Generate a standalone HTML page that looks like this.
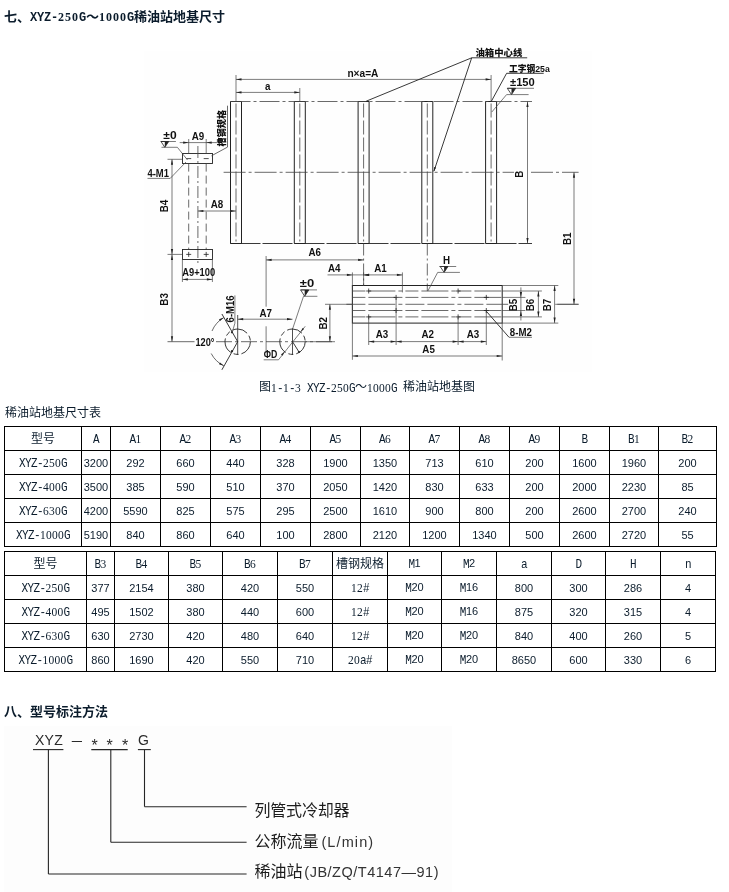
<!DOCTYPE html>
<html lang="zh-CN"><head><meta charset="utf-8"><title>XYZ-250G～1000G稀油站地基尺寸</title>
<style>
html,body{margin:0;padding:0;background:#fff;}
body{width:729px;height:892px;position:relative;overflow:hidden;color:#0b1c2c;will-change:transform;
 font-family:"Liberation Serif","Noto Sans CJK SC",serif;font-size:12px;line-height:14px;}
.abs{position:absolute;white-space:nowrap;}
.h{font-family:"Liberation Serif","Noto Sans CJK SC",serif;font-size:13px;font-weight:bold;line-height:15px;}
.m{font-family:"Liberation Mono","Noto Sans CJK SC",monospace;font-size:11px;letter-spacing:-0.6px;display:inline-block;transform:translateY(1px) scaleY(1.16);transform-origin:50% 78%;white-space:pre;}
.h .m{font-size:12px;letter-spacing:-0.2px;transform:translateY(0px) scaleY(1.04);}
.m .d{font-family:"Liberation Serif",serif;font-size:11.5px;letter-spacing:0.25px;}
.h .m .d{font-size:12px;letter-spacing:1px;}
.n{font-family:"Liberation Sans","Noto Sans CJK SC",sans-serif;font-size:11px;}
table.t{position:absolute;border-collapse:collapse;table-layout:fixed;}
table.t td{border:1px solid #000;padding:0;text-align:center;vertical-align:middle;height:23px;
 font-size:12px;line-height:14px;overflow:hidden;white-space:nowrap;}
svg{position:absolute;left:0;top:0;}
svg text{font-family:"Liberation Sans","Noto Sans CJK SC",sans-serif;}
</style></head>
<body>
<div class="abs h" style="left:4px;top:9px">七、<span class="m">XYZ-<span class="d">250</span>G</span>～<span class="m"><span class="d">1000</span>G</span>稀油站地基尺寸</div>
<div class="abs" style="left:259px;top:380px">图<span class="m"><span class="d">1</span>-<span class="d">1</span>-<span class="d">3</span> XYZ-<span class="d">250</span>G</span>～<span class="m"><span class="d">1000</span>G </span>稀油站地基图</div>
<div class="abs" style="left:5px;top:406px">稀油站地基尺寸表</div>
<table class="t" style="left:4px;top:426px;width:713px">
<colgroup><col style="width:77px"><col style="width:29px"><col style="width:50px"><col style="width:50px"><col style="width:50px"><col style="width:50px"><col style="width:50px"><col style="width:49px"><col style="width:50px"><col style="width:50px"><col style="width:50px"><col style="width:50px"><col style="width:49px"><col style="width:58px"></colgroup>
<tr><td>型号</td><td><span class="m">A</span></td><td><span class="m">A<span class="d">1</span></span></td><td><span class="m">A<span class="d">2</span></span></td><td><span class="m">A<span class="d">3</span></span></td><td><span class="m">A<span class="d">4</span></span></td><td><span class="m">A<span class="d">5</span></span></td><td><span class="m">A<span class="d">6</span></span></td><td><span class="m">A<span class="d">7</span></span></td><td><span class="m">A<span class="d">8</span></span></td><td><span class="m">A<span class="d">9</span></span></td><td><span class="m">B</span></td><td><span class="m">B<span class="d">1</span></span></td><td><span class="m">B<span class="d">2</span></span></td></tr>
<tr><td><span class="m">XYZ-<span class="d">250</span>G</span></td><td><span class="n">3200</span></td><td><span class="n">292</span></td><td><span class="n">660</span></td><td><span class="n">440</span></td><td><span class="n">328</span></td><td><span class="n">1900</span></td><td><span class="n">1350</span></td><td><span class="n">713</span></td><td><span class="n">610</span></td><td><span class="n">200</span></td><td><span class="n">1600</span></td><td><span class="n">1960</span></td><td><span class="n">200</span></td></tr>
<tr><td><span class="m">XYZ-<span class="d">400</span>G</span></td><td><span class="n">3500</span></td><td><span class="n">385</span></td><td><span class="n">590</span></td><td><span class="n">510</span></td><td><span class="n">370</span></td><td><span class="n">2050</span></td><td><span class="n">1420</span></td><td><span class="n">830</span></td><td><span class="n">633</span></td><td><span class="n">200</span></td><td><span class="n">2000</span></td><td><span class="n">2230</span></td><td><span class="n">85</span></td></tr>
<tr><td><span class="m">XYZ-<span class="d">630</span>G</span></td><td><span class="n">4200</span></td><td><span class="n">5590</span></td><td><span class="n">825</span></td><td><span class="n">575</span></td><td><span class="n">295</span></td><td><span class="n">2500</span></td><td><span class="n">1610</span></td><td><span class="n">900</span></td><td><span class="n">800</span></td><td><span class="n">200</span></td><td><span class="n">2600</span></td><td><span class="n">2700</span></td><td><span class="n">240</span></td></tr>
<tr><td><span class="m">XYZ-<span class="d">1000</span>G</span></td><td><span class="n">5190</span></td><td><span class="n">840</span></td><td><span class="n">860</span></td><td><span class="n">640</span></td><td><span class="n">100</span></td><td><span class="n">2800</span></td><td><span class="n">2120</span></td><td><span class="n">1200</span></td><td><span class="n">1340</span></td><td><span class="n">500</span></td><td><span class="n">2600</span></td><td><span class="n">2720</span></td><td><span class="n">55</span></td></tr>
</table>
<table class="t" style="left:4px;top:551px;width:712px">
<colgroup><col style="width:82px"><col style="width:28px"><col style="width:54px"><col style="width:54px"><col style="width:55px"><col style="width:55px"><col style="width:55px"><col style="width:54px"><col style="width:55px"><col style="width:55px"><col style="width:54px"><col style="width:55px"><col style="width:55px"></colgroup>
<tr><td>型号</td><td><span class="m">B<span class="d">3</span></span></td><td><span class="m">B<span class="d">4</span></span></td><td><span class="m">B<span class="d">5</span></span></td><td><span class="m">B<span class="d">6</span></span></td><td><span class="m">B<span class="d">7</span></span></td><td>槽钢规格</td><td><span class="m">M</span><span class="n">1</span></td><td><span class="m">M</span><span class="n">2</span></td><td><span class="m">a</span></td><td><span class="m">D</span></td><td><span class="m">H</span></td><td><span class="m">n</span></td></tr>
<tr><td><span class="m">XYZ-<span class="d">250</span>G</span></td><td><span class="n">377</span></td><td><span class="n">2154</span></td><td><span class="n">380</span></td><td><span class="n">420</span></td><td><span class="n">550</span></td><td><span class="m"><span class="d">12</span>#</span></td><td><span class="m">M</span><span class="n">20</span></td><td><span class="m">M</span><span class="n">16</span></td><td><span class="n">800</span></td><td><span class="n">300</span></td><td><span class="n">286</span></td><td><span class="n">4</span></td></tr>
<tr><td><span class="m">XYZ-<span class="d">400</span>G</span></td><td><span class="n">495</span></td><td><span class="n">1502</span></td><td><span class="n">380</span></td><td><span class="n">440</span></td><td><span class="n">600</span></td><td><span class="m"><span class="d">12</span>#</span></td><td><span class="m">M</span><span class="n">20</span></td><td><span class="m">M</span><span class="n">16</span></td><td><span class="n">875</span></td><td><span class="n">320</span></td><td><span class="n">315</span></td><td><span class="n">4</span></td></tr>
<tr><td><span class="m">XYZ-<span class="d">630</span>G</span></td><td><span class="n">630</span></td><td><span class="n">2730</span></td><td><span class="n">420</span></td><td><span class="n">480</span></td><td><span class="n">640</span></td><td><span class="m"><span class="d">12</span>#</span></td><td><span class="m">M</span><span class="n">20</span></td><td><span class="m">M</span><span class="n">20</span></td><td><span class="n">840</span></td><td><span class="n">400</span></td><td><span class="n">260</span></td><td><span class="n">5</span></td></tr>
<tr><td><span class="m">XYZ-<span class="d">1000</span>G</span></td><td><span class="n">860</span></td><td><span class="n">1690</span></td><td><span class="n">420</span></td><td><span class="n">550</span></td><td><span class="n">710</span></td><td><span class="m"><span class="d">20</span>a#</span></td><td><span class="m">M</span><span class="n">20</span></td><td><span class="m">M</span><span class="n">20</span></td><td><span class="n">8650</span></td><td><span class="n">600</span></td><td><span class="n">330</span></td><td><span class="n">6</span></td></tr>
</table>
<div class="abs h" style="left:4px;top:704px">八、型号标注方法</div>
<svg width="729" height="400" viewBox="0 0 729 400">
<rect x="144" y="51" width="448" height="321" fill="#fefefe"/>
<line x1="230.5" y1="101.5" x2="230.5" y2="243.5" stroke="#222222" stroke-width="1.00"/>
<line x1="241.5" y1="101.5" x2="241.5" y2="243.5" stroke="#222222" stroke-width="1.00"/>
<line x1="230.5" y1="101.5" x2="241.5" y2="101.5" stroke="#222222" stroke-width="1.00"/>
<line x1="230.5" y1="243.5" x2="241.5" y2="243.5" stroke="#222222" stroke-width="1.00"/>
<line x1="236.0" y1="103.5" x2="236.0" y2="241.5" stroke="#444444" stroke-width="0.80" stroke-dasharray="14 3"/>
<line x1="294.3" y1="101.5" x2="294.3" y2="243.5" stroke="#222222" stroke-width="1.00"/>
<line x1="305.3" y1="101.5" x2="305.3" y2="243.5" stroke="#222222" stroke-width="1.00"/>
<line x1="294.3" y1="101.5" x2="305.3" y2="101.5" stroke="#222222" stroke-width="1.00"/>
<line x1="294.3" y1="243.5" x2="305.3" y2="243.5" stroke="#222222" stroke-width="1.00"/>
<line x1="299.8" y1="103.5" x2="299.8" y2="241.5" stroke="#444444" stroke-width="0.80" stroke-dasharray="14 3"/>
<line x1="358.1" y1="101.5" x2="358.1" y2="243.5" stroke="#222222" stroke-width="1.00"/>
<line x1="369.1" y1="101.5" x2="369.1" y2="243.5" stroke="#222222" stroke-width="1.00"/>
<line x1="358.1" y1="101.5" x2="369.1" y2="101.5" stroke="#222222" stroke-width="1.00"/>
<line x1="358.1" y1="243.5" x2="369.1" y2="243.5" stroke="#222222" stroke-width="1.00"/>
<line x1="363.6" y1="103.5" x2="363.6" y2="241.5" stroke="#444444" stroke-width="0.80" stroke-dasharray="14 3"/>
<line x1="421.8" y1="101.5" x2="421.8" y2="243.5" stroke="#222222" stroke-width="1.00"/>
<line x1="432.8" y1="101.5" x2="432.8" y2="243.5" stroke="#222222" stroke-width="1.00"/>
<line x1="421.8" y1="101.5" x2="432.8" y2="101.5" stroke="#222222" stroke-width="1.00"/>
<line x1="421.8" y1="243.5" x2="432.8" y2="243.5" stroke="#222222" stroke-width="1.00"/>
<line x1="427.3" y1="103.5" x2="427.3" y2="241.5" stroke="#444444" stroke-width="0.80" stroke-dasharray="14 3"/>
<line x1="485.6" y1="101.5" x2="485.6" y2="243.5" stroke="#222222" stroke-width="1.00"/>
<line x1="496.6" y1="101.5" x2="496.6" y2="243.5" stroke="#222222" stroke-width="1.00"/>
<line x1="485.6" y1="101.5" x2="496.6" y2="101.5" stroke="#222222" stroke-width="1.00"/>
<line x1="485.6" y1="243.5" x2="496.6" y2="243.5" stroke="#222222" stroke-width="1.00"/>
<line x1="491.1" y1="103.5" x2="491.1" y2="241.5" stroke="#444444" stroke-width="0.80" stroke-dasharray="14 3"/>
<line x1="230.5" y1="101.5" x2="532.0" y2="101.5" stroke="#444444" stroke-width="0.80" stroke-dasharray="20 3 3 3"/>
<line x1="230.5" y1="243.5" x2="532.0" y2="243.5" stroke="#222222" stroke-width="0.90" stroke-dasharray="30 2"/>
<line x1="223.6" y1="172.3" x2="514.0" y2="172.3" stroke="#444444" stroke-width="0.80" stroke-dasharray="22 3 3 3"/>
<line x1="531.0" y1="172.3" x2="578.6" y2="172.3" stroke="#444444" stroke-width="0.80" stroke-dasharray="22 3 3 3"/>
<line x1="363.6" y1="243.5" x2="363.6" y2="286.0" stroke="#444444" stroke-width="0.80" stroke-dasharray="12 3 2 3"/>
<line x1="427.3" y1="243.5" x2="427.3" y2="291.0" stroke="#444444" stroke-width="0.80" stroke-dasharray="12 3 2 3"/>
<line x1="236.0" y1="75.0" x2="236.0" y2="101.5" stroke="#444444" stroke-width="0.70"/>
<line x1="491.1" y1="75.0" x2="491.1" y2="101.5" stroke="#444444" stroke-width="0.70"/>
<line x1="236.0" y1="79.4" x2="491.1" y2="79.4" stroke="#444444" stroke-width="0.70"/>
<polygon points="236.0,79.4 241.5,78.3 241.5,80.5" fill="#222222"/>
<polygon points="491.1,79.4 485.6,80.5 485.6,78.3" fill="#222222"/>
<text font-size="10.2" text-anchor="middle" fill="#111" font-weight="bold" transform="translate(362.9 76.6)" textLength="31.0" lengthAdjust="spacingAndGlyphs">n×a=A</text>
<line x1="236.0" y1="92.4" x2="299.8" y2="92.4" stroke="#444444" stroke-width="0.70"/>
<polygon points="236.0,92.4 241.5,91.3 241.5,93.5" fill="#222222"/>
<polygon points="299.8,92.4 294.3,93.5 294.3,91.3" fill="#222222"/>
<line x1="299.8" y1="88.0" x2="299.8" y2="101.5" stroke="#444444" stroke-width="0.70"/>
<text font-size="10.2" text-anchor="middle" fill="#111" font-weight="bold" transform="translate(267.8 89.8) scale(0.96 1)">a</text>
<line x1="471.7" y1="57.8" x2="527.2" y2="57.8" stroke="#222222" stroke-width="0.90"/>
<line x1="471.7" y1="57.8" x2="366.2" y2="101.2" stroke="#222222" stroke-width="0.90"/>
<line x1="471.7" y1="57.8" x2="434.0" y2="171.0" stroke="#222222" stroke-width="0.90"/>
<polygon points="433.6,172.0 434.2,166.9 436.1,167.6" fill="#222222"/>
<text font-size="9.4" text-anchor="start" fill="#111" font-weight="900" transform="translate(475.4 55.6)">油箱中心线</text>
<text font-size="9.4" text-anchor="start" fill="#111" font-weight="900" transform="translate(509.1 72.3)" textLength="40.7" lengthAdjust="spacingAndGlyphs">工字钢25a</text>
<line x1="506.6" y1="73.3" x2="543.7" y2="73.3" stroke="#222222" stroke-width="0.90"/>
<line x1="506.6" y1="73.3" x2="491.4" y2="101.2" stroke="#222222" stroke-width="0.90"/>
<text font-size="10.2" text-anchor="start" fill="#111" font-weight="bold" transform="translate(510.0 86.2)" textLength="24.8" lengthAdjust="spacingAndGlyphs">±150</text>
<line x1="507.3" y1="88.3" x2="534.0" y2="88.3" stroke="#444444" stroke-width="0.70"/>
<polygon points="507.3,88.3 515.6,88.3 511.5,94.6" fill="none" stroke="#222222" stroke-width="0.8"/>
<polygon points="511.5,88.3 515.6,88.3 511.5,94.6" fill="#222222"/>
<line x1="506.6" y1="94.6" x2="528.6" y2="94.6" stroke="#444444" stroke-width="0.70"/>
<line x1="506.6" y1="94.6" x2="491.8" y2="112.0" stroke="#444444" stroke-width="0.70"/>
<line x1="527.5" y1="101.5" x2="527.5" y2="243.5" stroke="#444444" stroke-width="0.70"/>
<polygon points="527.5,101.5 528.6,107.0 526.4,107.0" fill="#222222"/>
<polygon points="527.5,243.5 526.4,238.0 528.6,238.0" fill="#222222"/>
<text font-size="10.2" text-anchor="middle" fill="#111" font-weight="bold" transform="translate(523.4 174.1) rotate(-90) scale(0.96 1)">B</text>
<line x1="574.0" y1="172.3" x2="574.0" y2="304.3" stroke="#444444" stroke-width="0.70"/>
<polygon points="574.0,172.3 575.1,177.8 572.9,177.8" fill="#222222"/>
<polygon points="574.0,304.3 572.9,298.8 575.1,298.8" fill="#222222"/>
<text font-size="10.2" text-anchor="middle" fill="#111" font-weight="bold" transform="translate(571.0 238.7) rotate(-90) scale(0.96 1)">B1</text>
<line x1="557.3" y1="304.3" x2="578.6" y2="304.3" stroke="#444444" stroke-width="0.70"/>
<rect x="182.5" y="153.5" width="30" height="10" fill="none" stroke="#222222" stroke-width="0.9"/>
<line x1="186.2" y1="158.6" x2="191.2" y2="158.6" stroke="#222222" stroke-width="0.80"/>
<line x1="203.7" y1="158.6" x2="208.7" y2="158.6" stroke="#222222" stroke-width="0.80"/>
<line x1="188.7" y1="163.6" x2="188.7" y2="249.4" stroke="#444444" stroke-width="0.80" stroke-dasharray="8 4"/>
<line x1="206.2" y1="163.6" x2="206.2" y2="249.4" stroke="#444444" stroke-width="0.80" stroke-dasharray="8 4"/>
<line x1="197.9" y1="146.0" x2="197.9" y2="264.0" stroke="#444444" stroke-width="0.80" stroke-dasharray="12 3 2 3"/>
<line x1="188.7" y1="139.0" x2="188.7" y2="153.6" stroke="#444444" stroke-width="0.70"/>
<line x1="206.2" y1="139.0" x2="206.2" y2="153.6" stroke="#444444" stroke-width="0.70"/>
<line x1="179.7" y1="142.6" x2="215.2" y2="142.6" stroke="#444444" stroke-width="0.70"/>
<polygon points="188.7,142.6 183.2,143.7 183.2,141.5" fill="#222222"/>
<polygon points="206.2,142.6 211.7,141.5 211.7,143.7" fill="#222222"/>
<line x1="215.0" y1="142.6" x2="219.0" y2="142.6" stroke="#444444" stroke-width="0.70"/>
<text font-size="10.2" text-anchor="middle" fill="#111" font-weight="bold" transform="translate(197.9 139.8) scale(0.96 1)">A9</text>
<text font-size="10.2" text-anchor="middle" fill="#111" font-weight="bold" transform="translate(170.0 139.4)" textLength="13.3" lengthAdjust="spacingAndGlyphs">±0</text>
<line x1="160.6" y1="141.5" x2="175.9" y2="141.5" stroke="#444444" stroke-width="0.70"/>
<polygon points="161.0,141.5 168.7,141.5 164.8,147.3" fill="none" stroke="#222222" stroke-width="0.8"/>
<polygon points="164.8,141.5 168.7,141.5 164.8,147.3" fill="#222222"/>
<line x1="161.5" y1="147.3" x2="177.4" y2="147.3" stroke="#444444" stroke-width="0.70"/>
<line x1="177.4" y1="147.3" x2="187.5" y2="160.0" stroke="#444444" stroke-width="0.70"/>
<text font-size="10.2" text-anchor="middle" fill="#111" font-weight="bold" transform="translate(158.2 177.4)" textLength="21.5" lengthAdjust="spacingAndGlyphs">4-M1</text>
<line x1="147.5" y1="178.4" x2="170.2" y2="178.4" stroke="#444444" stroke-width="0.70"/>
<line x1="170.2" y1="178.4" x2="186.0" y2="162.0" stroke="#444444" stroke-width="0.70"/>
<text font-size="9.1" text-anchor="start" fill="#111" font-weight="900" transform="translate(225.4 146.4) rotate(-90)">槽钢规格</text>
<line x1="227.5" y1="105.7" x2="227.5" y2="147.1" stroke="#444444" stroke-width="0.80"/>
<line x1="227.5" y1="147.1" x2="211.5" y2="155.8" stroke="#444444" stroke-width="0.80"/>
<line x1="167.5" y1="159.3" x2="182.4" y2="159.3" stroke="#444444" stroke-width="0.70"/>
<line x1="172.0" y1="159.3" x2="172.0" y2="254.4" stroke="#444444" stroke-width="0.70"/>
<polygon points="172.0,159.3 173.1,164.8 170.9,164.8" fill="#222222"/>
<polygon points="172.0,254.4 170.9,248.9 173.1,248.9" fill="#222222"/>
<text font-size="10.2" text-anchor="middle" fill="#111" font-weight="bold" transform="translate(168.0 206.0) rotate(-90) scale(0.96 1)">B4</text>
<line x1="197.9" y1="211.0" x2="236.0" y2="211.0" stroke="#444444" stroke-width="0.70"/>
<polygon points="197.9,211.0 203.4,209.9 203.4,212.1" fill="#222222"/>
<polygon points="236.0,211.0 230.5,212.1 230.5,209.9" fill="#222222"/>
<text font-size="10.2" text-anchor="middle" fill="#111" font-weight="bold" transform="translate(216.9 208.0) scale(0.96 1)">A8</text>
<rect x="182.5" y="249.5" width="30" height="10" fill="none" stroke="#222222" stroke-width="0.9"/>
<line x1="186.2" y1="254.4" x2="191.2" y2="254.4" stroke="#222222" stroke-width="0.80"/>
<line x1="188.7" y1="251.9" x2="188.7" y2="256.9" stroke="#222222" stroke-width="0.80"/>
<line x1="203.7" y1="254.4" x2="208.7" y2="254.4" stroke="#222222" stroke-width="0.80"/>
<line x1="206.2" y1="251.9" x2="206.2" y2="256.9" stroke="#222222" stroke-width="0.80"/>
<line x1="167.5" y1="254.4" x2="182.4" y2="254.4" stroke="#444444" stroke-width="0.70"/>
<line x1="182.4" y1="259.4" x2="182.4" y2="282.0" stroke="#444444" stroke-width="0.70"/>
<line x1="212.4" y1="259.4" x2="212.4" y2="282.0" stroke="#444444" stroke-width="0.70"/>
<line x1="182.4" y1="279.4" x2="212.4" y2="279.4" stroke="#444444" stroke-width="0.70"/>
<polygon points="182.4,279.4 187.9,278.3 187.9,280.5" fill="#222222"/>
<polygon points="212.4,279.4 206.9,280.5 206.9,278.3" fill="#222222"/>
<text font-size="10.2" text-anchor="middle" fill="#111" font-weight="bold" transform="translate(198.7 276.2)" textLength="33.0" lengthAdjust="spacingAndGlyphs">A9+100</text>
<line x1="172.0" y1="254.4" x2="172.0" y2="341.7" stroke="#444444" stroke-width="0.70"/>
<polygon points="172.0,254.4 173.1,259.9 170.9,259.9" fill="#222222"/>
<polygon points="172.0,341.7 170.9,336.2 173.1,336.2" fill="#222222"/>
<text font-size="10.2" text-anchor="middle" fill="#111" font-weight="bold" transform="translate(168.0 299.4) rotate(-90) scale(0.96 1)">B3</text>
<line x1="167.5" y1="341.7" x2="194.5" y2="341.7" stroke="#444444" stroke-width="0.80"/>
<line x1="216.0" y1="341.7" x2="335.0" y2="341.7" stroke="#444444" stroke-width="0.80" stroke-dasharray="16 3 3 3"/>
<circle cx="237.7" cy="341.7" r="12.7" fill="none" stroke="#222222" stroke-width="0.9" stroke-dasharray="16 3 5 3"/>
<circle cx="292.5" cy="341.7" r="12.7" fill="none" stroke="#222222" stroke-width="0.9" stroke-dasharray="16 3 5 3"/>
<line x1="237.7" y1="315.0" x2="237.7" y2="355.0" stroke="#222222" stroke-width="0.80"/>
<line x1="292.5" y1="328.4" x2="292.5" y2="355.0" stroke="#222222" stroke-width="0.80"/>
<line x1="237.7" y1="341.7" x2="221.9" y2="314.0" stroke="#222222" stroke-width="0.90"/>
<line x1="237.7" y1="341.7" x2="221.9" y2="369.8" stroke="#222222" stroke-width="0.90"/>
<path d="M 223.8 317.6 A 27.8 27.8 0 0 0 212.0 331.0" fill="none" stroke="#444444" stroke-width="0.8"/>
<path d="M 211.2 353.5 A 27.8 27.8 0 0 0 223.8 365.8" fill="none" stroke="#444444" stroke-width="0.8"/>
<polygon points="223.8,317.6 220.0,321.0 219.0,319.2" fill="#222222"/>
<polygon points="223.8,365.8 219.0,364.2 220.0,362.4" fill="#222222"/>
<text font-size="10.2" text-anchor="middle" fill="#111" font-weight="bold" transform="translate(205.0 346.2)" textLength="19.0" lengthAdjust="spacingAndGlyphs">120°</text>
<circle cx="232.0" cy="332.3" r="1.1" fill="#222222"/>
<circle cx="232.0" cy="351.2" r="1.1" fill="#222222"/>
<text font-size="10.2" text-anchor="start" fill="#111" font-weight="bold" transform="translate(233.8 322.4) rotate(-90)" textLength="27.0" lengthAdjust="spacingAndGlyphs">6-M16</text>
<line x1="234.9" y1="295.4" x2="234.9" y2="323.2" stroke="#444444" stroke-width="0.70"/>
<line x1="234.9" y1="323.2" x2="232.2" y2="332.5" stroke="#444444" stroke-width="0.70"/>
<line x1="237.7" y1="319.2" x2="292.5" y2="319.2" stroke="#444444" stroke-width="0.70"/>
<polygon points="237.7,319.2 243.2,318.1 243.2,320.3" fill="#222222"/>
<polygon points="292.5,319.2 287.0,320.3 287.0,318.1" fill="#222222"/>
<text font-size="10.2" text-anchor="middle" fill="#111" font-weight="bold" transform="translate(265.7 316.8) scale(0.96 1)">A7</text>
<line x1="266.1" y1="256.0" x2="266.1" y2="306.7" stroke="#444444" stroke-width="0.70"/>
<line x1="266.1" y1="326.3" x2="266.1" y2="351.0" stroke="#444444" stroke-width="0.70"/>
<line x1="266.1" y1="259.9" x2="363.6" y2="259.9" stroke="#444444" stroke-width="0.70"/>
<polygon points="266.1,259.9 271.6,258.8 271.6,261.0" fill="#222222"/>
<polygon points="363.6,259.9 358.1,261.0 358.1,258.8" fill="#222222"/>
<text font-size="10.2" text-anchor="middle" fill="#111" font-weight="bold" transform="translate(314.8 256.4) scale(0.96 1)">A6</text>
<text font-size="10.2" text-anchor="middle" fill="#111" font-weight="bold" transform="translate(307.0 287.4)" textLength="14.4" lengthAdjust="spacingAndGlyphs">±0</text>
<line x1="300.6" y1="289.9" x2="317.0" y2="289.9" stroke="#444444" stroke-width="0.70"/>
<polygon points="300.6,289.9 308.8,289.9 304.7,296.3" fill="none" stroke="#222222" stroke-width="0.8"/>
<polygon points="304.7,289.9 308.8,289.9 304.7,296.3" fill="#222222"/>
<line x1="303.5" y1="296.3" x2="317.4" y2="296.3" stroke="#444444" stroke-width="0.70"/>
<line x1="303.5" y1="296.3" x2="292.5" y2="329.2" stroke="#444444" stroke-width="0.70"/>
<text font-size="10.2" text-anchor="middle" fill="#111" font-weight="bold" transform="translate(270.6 357.8)" textLength="13.5" lengthAdjust="spacingAndGlyphs">ΦD</text>
<line x1="263.7" y1="359.8" x2="278.5" y2="359.8" stroke="#444444" stroke-width="0.70"/>
<line x1="278.5" y1="359.8" x2="305.2" y2="326.3" stroke="#444444" stroke-width="0.70"/>
<polygon points="284.6,351.6 282.5,355.7 281.0,354.5" fill="#222222"/>
<polygon points="300.5,332.0 302.6,327.9 304.1,329.1" fill="#222222"/>
<line x1="292.5" y1="341.7" x2="299.0" y2="352.0" stroke="#222222" stroke-width="0.90"/>
<circle cx="299" cy="352" r="1.1" fill="#222222"/>
<rect x="352.4" y="285.5" width="149.8" height="37.6" fill="none" stroke="#222222" stroke-width="1"/>
<line x1="352.4" y1="291.0" x2="502.2" y2="291.0" stroke="#444444" stroke-width="0.80" stroke-dasharray="13 3 27 3 4 3"/>
<line x1="352.4" y1="297.4" x2="502.2" y2="297.4" stroke="#444444" stroke-width="0.80" stroke-dasharray="13 3 27 3 4 3"/>
<line x1="346.4" y1="304.3" x2="508.2" y2="304.3" stroke="#444444" stroke-width="0.80" stroke-dasharray="19 3 27 3 4 3"/>
<line x1="352.4" y1="310.5" x2="502.2" y2="310.5" stroke="#444444" stroke-width="0.80" stroke-dasharray="13 3 27 3 4 3"/>
<line x1="352.4" y1="316.9" x2="502.2" y2="316.9" stroke="#444444" stroke-width="0.80" stroke-dasharray="13 3 27 3 4 3"/>
<line x1="366.2" y1="291.0" x2="371.2" y2="291.0" stroke="#222222" stroke-width="0.80"/>
<line x1="368.7" y1="288.5" x2="368.7" y2="293.5" stroke="#222222" stroke-width="0.80"/>
<line x1="366.2" y1="316.9" x2="371.2" y2="316.9" stroke="#222222" stroke-width="0.80"/>
<line x1="368.7" y1="314.4" x2="368.7" y2="319.4" stroke="#222222" stroke-width="0.80"/>
<line x1="455.6" y1="291.0" x2="460.6" y2="291.0" stroke="#222222" stroke-width="0.80"/>
<line x1="458.1" y1="288.5" x2="458.1" y2="293.5" stroke="#222222" stroke-width="0.80"/>
<line x1="455.6" y1="316.9" x2="460.6" y2="316.9" stroke="#222222" stroke-width="0.80"/>
<line x1="458.1" y1="314.4" x2="458.1" y2="319.4" stroke="#222222" stroke-width="0.80"/>
<line x1="393.6" y1="297.4" x2="398.6" y2="297.4" stroke="#222222" stroke-width="0.80"/>
<line x1="396.1" y1="294.9" x2="396.1" y2="299.9" stroke="#222222" stroke-width="0.80"/>
<line x1="393.6" y1="310.5" x2="398.6" y2="310.5" stroke="#222222" stroke-width="0.80"/>
<line x1="396.1" y1="308.0" x2="396.1" y2="313.0" stroke="#222222" stroke-width="0.80"/>
<line x1="483.8" y1="297.4" x2="488.8" y2="297.4" stroke="#222222" stroke-width="0.80"/>
<line x1="486.3" y1="294.9" x2="486.3" y2="299.9" stroke="#222222" stroke-width="0.80"/>
<line x1="483.8" y1="310.5" x2="488.8" y2="310.5" stroke="#222222" stroke-width="0.80"/>
<line x1="486.3" y1="308.0" x2="486.3" y2="313.0" stroke="#222222" stroke-width="0.80"/>
<line x1="502.2" y1="285.5" x2="558.3" y2="285.5" stroke="#444444" stroke-width="0.70"/>
<line x1="502.2" y1="323.1" x2="558.3" y2="323.1" stroke="#444444" stroke-width="0.70"/>
<line x1="502.2" y1="291.0" x2="541.9" y2="291.0" stroke="#444444" stroke-width="0.70"/>
<line x1="502.2" y1="316.9" x2="541.9" y2="316.9" stroke="#444444" stroke-width="0.70"/>
<line x1="502.2" y1="297.4" x2="525.4" y2="297.4" stroke="#444444" stroke-width="0.70"/>
<line x1="502.2" y1="310.5" x2="525.4" y2="310.5" stroke="#444444" stroke-width="0.70"/>
<line x1="555.2" y1="304.3" x2="578.6" y2="304.3" stroke="#444444" stroke-width="0.70"/>
<line x1="520.9" y1="287.4" x2="520.9" y2="320.5" stroke="#444444" stroke-width="0.70"/>
<polygon points="520.9,297.4 519.8,291.9 522.0,291.9" fill="#222222"/>
<polygon points="520.9,310.5 522.0,316.0 519.8,316.0" fill="#222222"/>
<line x1="538.4" y1="291.0" x2="538.4" y2="316.9" stroke="#444444" stroke-width="0.70"/>
<polygon points="538.4,291.0 539.5,296.5 537.3,296.5" fill="#222222"/>
<polygon points="538.4,316.9 537.3,311.4 539.5,311.4" fill="#222222"/>
<line x1="554.6" y1="285.5" x2="554.6" y2="323.1" stroke="#444444" stroke-width="0.70"/>
<polygon points="554.6,285.5 555.7,291.0 553.5,291.0" fill="#222222"/>
<polygon points="554.6,323.1 553.5,317.6 555.7,317.6" fill="#222222"/>
<text font-size="10.2" text-anchor="middle" fill="#111" font-weight="bold" transform="translate(516.6 305.0) rotate(-90) scale(0.96 1)">B5</text>
<text font-size="10.2" text-anchor="middle" fill="#111" font-weight="bold" transform="translate(534.1 305.0) rotate(-90) scale(0.96 1)">B6</text>
<text font-size="10.2" text-anchor="middle" fill="#111" font-weight="bold" transform="translate(551.4 305.0) rotate(-90) scale(0.96 1)">B7</text>
<text font-size="10.2" text-anchor="middle" fill="#111" font-weight="bold" transform="translate(520.8 336.4)" textLength="22.0" lengthAdjust="spacingAndGlyphs">8-M2</text>
<line x1="509.0" y1="337.3" x2="532.0" y2="337.3" stroke="#444444" stroke-width="0.70"/>
<line x1="509.0" y1="337.3" x2="485.7" y2="310.5" stroke="#222222" stroke-width="0.90"/>
<line x1="352.4" y1="272.4" x2="352.4" y2="359.8" stroke="#444444" stroke-width="0.70"/>
<line x1="363.6" y1="272.4" x2="363.6" y2="286.0" stroke="#444444" stroke-width="0.70"/>
<line x1="402.4" y1="272.4" x2="402.4" y2="292.4" stroke="#444444" stroke-width="0.70"/>
<line x1="327.5" y1="274.9" x2="352.4" y2="274.9" stroke="#444444" stroke-width="0.70"/>
<polygon points="352.4,274.9 346.9,276.0 346.9,273.8" fill="#222222"/>
<line x1="352.4" y1="274.9" x2="363.6" y2="274.9" stroke="#444444" stroke-width="0.70"/>
<polygon points="363.6,274.9 369.1,273.8 369.1,276.0" fill="#222222"/>
<line x1="363.6" y1="274.9" x2="402.4" y2="274.9" stroke="#444444" stroke-width="0.70"/>
<polygon points="363.6,274.9 369.1,273.8 369.1,276.0" fill="#222222"/>
<polygon points="402.4,274.9 396.9,276.0 396.9,273.8" fill="#222222"/>
<text font-size="10.2" text-anchor="middle" fill="#111" font-weight="bold" transform="translate(334.2 272.2) scale(0.96 1)">A4</text>
<text font-size="10.2" text-anchor="middle" fill="#111" font-weight="bold" transform="translate(380.4 271.6) scale(0.96 1)">A1</text>
<text font-size="10.2" text-anchor="middle" fill="#111" font-weight="bold" transform="translate(446.6 264.3) scale(0.96 1)">H</text>
<line x1="439.3" y1="266.5" x2="456.2" y2="266.5" stroke="#444444" stroke-width="0.70"/>
<polygon points="440.2,266.5 448.0,266.5 444.1,272.4" fill="none" stroke="#222222" stroke-width="0.8"/>
<polygon points="444.1,266.5 448.0,266.5 444.1,272.4" fill="#222222"/>
<line x1="437.7" y1="272.4" x2="459.9" y2="272.4" stroke="#444444" stroke-width="0.70"/>
<line x1="437.7" y1="272.4" x2="427.8" y2="291.1" stroke="#444444" stroke-width="0.70"/>
<line x1="325.0" y1="304.3" x2="352.4" y2="304.3" stroke="#444444" stroke-width="0.70"/>
<line x1="305.2" y1="341.7" x2="335.0" y2="341.7" stroke="#444444" stroke-width="0.70"/>
<line x1="329.9" y1="304.3" x2="329.9" y2="341.7" stroke="#444444" stroke-width="0.70"/>
<polygon points="329.9,304.3 331.0,309.8 328.8,309.8" fill="#222222"/>
<polygon points="329.9,341.7 328.8,336.2 331.0,336.2" fill="#222222"/>
<text font-size="10.2" text-anchor="middle" fill="#111" font-weight="bold" transform="translate(327.2 323.2) rotate(-90) scale(0.96 1)">B2</text>
<line x1="368.7" y1="316.9" x2="368.7" y2="345.0" stroke="#444444" stroke-width="0.70"/>
<line x1="396.1" y1="297.4" x2="396.1" y2="345.0" stroke="#444444" stroke-width="0.70"/>
<line x1="458.1" y1="316.9" x2="458.1" y2="345.0" stroke="#444444" stroke-width="0.70"/>
<line x1="486.3" y1="310.5" x2="486.3" y2="345.0" stroke="#444444" stroke-width="0.70"/>
<line x1="368.7" y1="341.6" x2="396.1" y2="341.6" stroke="#444444" stroke-width="0.70"/>
<polygon points="368.7,341.6 374.2,340.5 374.2,342.7" fill="#222222"/>
<polygon points="396.1,341.6 390.6,342.7 390.6,340.5" fill="#222222"/>
<line x1="396.1" y1="341.6" x2="458.1" y2="341.6" stroke="#444444" stroke-width="0.70"/>
<polygon points="396.1,341.6 401.6,340.5 401.6,342.7" fill="#222222"/>
<polygon points="458.1,341.6 452.6,342.7 452.6,340.5" fill="#222222"/>
<line x1="458.1" y1="341.6" x2="486.3" y2="341.6" stroke="#444444" stroke-width="0.70"/>
<polygon points="458.1,341.6 463.6,340.5 463.6,342.7" fill="#222222"/>
<polygon points="486.3,341.6 480.8,342.7 480.8,340.5" fill="#222222"/>
<text font-size="10.2" text-anchor="middle" fill="#111" font-weight="bold" transform="translate(381.9 337.9) scale(0.96 1)">A3</text>
<text font-size="10.2" text-anchor="middle" fill="#111" font-weight="bold" transform="translate(427.8 337.9) scale(0.96 1)">A2</text>
<text font-size="10.2" text-anchor="middle" fill="#111" font-weight="bold" transform="translate(473.0 337.9) scale(0.96 1)">A3</text>
<line x1="502.2" y1="323.1" x2="502.2" y2="360.5" stroke="#444444" stroke-width="0.70"/>
<line x1="352.4" y1="356.0" x2="502.2" y2="356.0" stroke="#444444" stroke-width="0.70"/>
<polygon points="352.4,356.0 357.9,354.9 357.9,357.1" fill="#222222"/>
<polygon points="502.2,356.0 496.7,357.1 496.7,354.9" fill="#222222"/>
<text font-size="10.2" text-anchor="middle" fill="#111" font-weight="bold" transform="translate(428.6 352.9) scale(0.96 1)">A5</text>
</svg>
<svg width="729" height="892" viewBox="0 0 729 892" style="pointer-events:none">
<rect x="4" y="726" width="448" height="170" fill="#fdfdfd"/>
<text x="35.0" y="745.2" font-size="14" fill="#2a2a2a" textLength="27.8" lengthAdjust="spacing">XYZ</text>
<text x="71.7" y="745.2" font-size="14" fill="#2a2a2a" textLength="10.3" lengthAdjust="spacingAndGlyphs">–</text>
<text x="91.4" y="751.2" font-size="16" fill="#2a2a2a">*</text>
<text x="106.4" y="751.2" font-size="16" fill="#2a2a2a">*</text>
<text x="122.1" y="751.2" font-size="16" fill="#2a2a2a">*</text>
<text x="138.0" y="745.2" font-size="14" fill="#2a2a2a">G</text>
<line x1="33.0" y1="749.6" x2="63.4" y2="749.6" stroke="#262626" stroke-width="1.10"/>
<line x1="91.3" y1="749.6" x2="127.7" y2="749.6" stroke="#262626" stroke-width="1.10"/>
<line x1="137.9" y1="749.6" x2="150.8" y2="749.6" stroke="#262626" stroke-width="1.10"/>
<line x1="48.4" y1="749.6" x2="48.4" y2="874.0" stroke="#262626" stroke-width="1.10"/>
<line x1="110.8" y1="749.6" x2="110.8" y2="842.3" stroke="#262626" stroke-width="1.10"/>
<line x1="144.5" y1="749.6" x2="144.5" y2="806.7" stroke="#262626" stroke-width="1.10"/>
<line x1="144.5" y1="806.7" x2="246.6" y2="806.7" stroke="#262626" stroke-width="1.10"/>
<line x1="110.8" y1="842.3" x2="246.6" y2="842.3" stroke="#262626" stroke-width="1.10"/>
<line x1="48.4" y1="874.0" x2="246.6" y2="874.0" stroke="#262626" stroke-width="1.10"/>
<text x="254.5" y="816.0" font-size="16" fill="#1c1c1c" textLength="95" lengthAdjust="spacing">列管式冷却器</text>
<text x="254.5" y="847.0" font-size="16" fill="#1c1c1c">公称流量</text>
<text x="321.4" y="846.6" font-size="14.5" fill="#333" textLength="51.8" lengthAdjust="spacing">(L/min)</text>
<text x="254.5" y="877.2" font-size="16" fill="#1c1c1c">稀油站</text>
<text x="304.3" y="876.8" font-size="14.5" fill="#333" textLength="134.2" lengthAdjust="spacing">(JB/ZQ/T4147—91)</text>
</svg>
</body></html>
